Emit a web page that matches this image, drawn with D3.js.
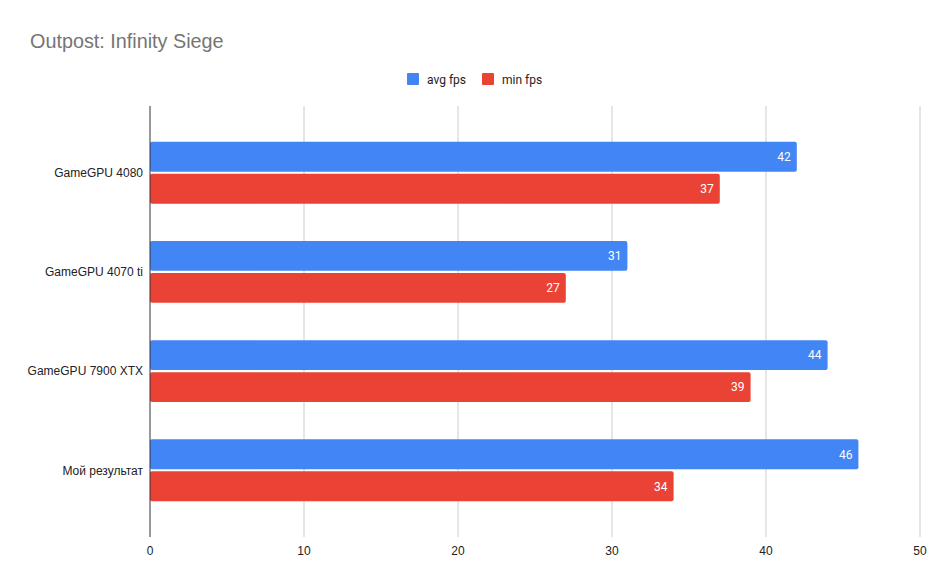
<!DOCTYPE html>
<html>
<head>
<meta charset="utf-8">
<script src="https://cdn.jsdelivr.net/npm/d3@7"></script>
<style>
  body { margin: 0; background: #fff; }
  text { font-family: Roboto, Arial, sans-serif; }
  text.arial { font-family: "Liberation Sans", Arial, sans-serif; }
</style>
</head>
<body>
<div id="chart"></div>
<script>
// chart data
var categories = ["GameGPU 4080", "GameGPU 4070 ti", "GameGPU 7900 XTX", "Мой результат"];
var seriesNames = ["avg fps", "min fps"];
var avgFps = [42, 31, 44, 46];
var minFps = [37, 27, 39, 34];
var xTicks = [0, 10, 20, 30, 40, 50];
var colors = ["#4285f4", "#ea4335"];

var width = 950, height = 587;
var margin = { top: 106, right: 30, bottom: 50, left: 150 };

var svg = d3.select("#chart").append("svg")
  .attr("width", width)
  .attr("height", height);

// title
svg.append("text")
  .attr("class", "arial")
  .attr("x", 30)
  .attr("y", 48)
  .attr("font-size", 19.8)
  .attr("fill", "#757575")
  .text("Outpost: Infinity Siege");

// legend
var legend = svg.append("g").attr("transform", "translate(407,73)");
var legendX = [0, 75];
seriesNames.forEach(function(name, i) {
  var g = legend.append("g").attr("transform", "translate(" + legendX[i] + ",0)");
  g.append("rect").attr("width", 12).attr("height", 12).attr("rx", 1).attr("fill", colors[i]);
  g.append("text").attr("x", 20).attr("y", 10.5).attr("font-size", 12).attr("fill", "#222").text(name);
});

// scales
var x = d3.scaleLinear()
  .domain([0, 50])
  .range([margin.left, width - margin.right]);

var y = d3.scaleBand()
  .domain(categories)
  .range([margin.top, height - margin.bottom])
  .paddingInner(0.376)
  .paddingOuter(0.36);

var ySub = d3.scaleBand()
  .domain(seriesNames)
  .range([0, y.bandwidth()])
  .paddingInner(0.065);

// gridlines
svg.append("g")
  .selectAll("line")
  .data(xTicks.slice(1))
  .join("line")
  .attr("x1", d => x(d)).attr("x2", d => x(d))
  .attr("y1", margin.top).attr("y2", height - margin.bottom)
  .attr("stroke", "#cccccc");

// bars
var rows = categories.map(function(c, i) {
  return { cat: c, values: [avgFps[i], minFps[i]] };
});

var groups = svg.append("g")
  .selectAll("g")
  .data(rows)
  .join("g")
  .attr("transform", d => "translate(0," + y(d.cat) + ")");

groups.selectAll("rect")
  .data(d => d.values.map((v, i) => ({ v: v, s: seriesNames[i], i: i })))
  .join("rect")
  .attr("x", x(0))
  .attr("y", d => ySub(d.s))
  .attr("width", d => x(d.v) - x(0))
  .attr("height", ySub.bandwidth())
  .attr("rx", 2)
  .attr("fill", d => colors[d.i]);

groups.selectAll("text.val")
  .data(d => d.values.map((v, i) => ({ v: v, s: seriesNames[i] })))
  .join("text")
  .attr("class", "val")
  .attr("x", d => x(d.v) - 6)
  .attr("y", d => ySub(d.s) + ySub.bandwidth() / 2)
  .attr("dy", "0.35em")
  .attr("text-anchor", "end")
  .attr("font-size", 12)
  .attr("fill", "#fff")
  .text(d => d.v);

// category labels
svg.append("g")
  .selectAll("text")
  .data(categories)
  .join("text")
  .attr("class", "arial")
  .attr("x", margin.left - 7)
  .attr("y", d => y(d) + y.bandwidth() / 2)
  .attr("dy", "0.35em")
  .attr("text-anchor", "end")
  .attr("font-size", 12)
  .attr("fill", "#222")
  .text(d => d);

// zero axis line
svg.append("line")
  .attr("x1", x(0)).attr("x2", x(0))
  .attr("y1", margin.top).attr("y2", height - margin.bottom)
  .attr("stroke", "#333");

// x tick labels
svg.append("g")
  .selectAll("text")
  .data(xTicks)
  .join("text")
  .attr("class", "arial")
  .attr("x", d => x(d))
  .attr("y", 555)
  .attr("text-anchor", "middle")
  .attr("font-size", 12)
  .attr("fill", "#222")
  .text(d => d);
</script>
</body>
</html>
